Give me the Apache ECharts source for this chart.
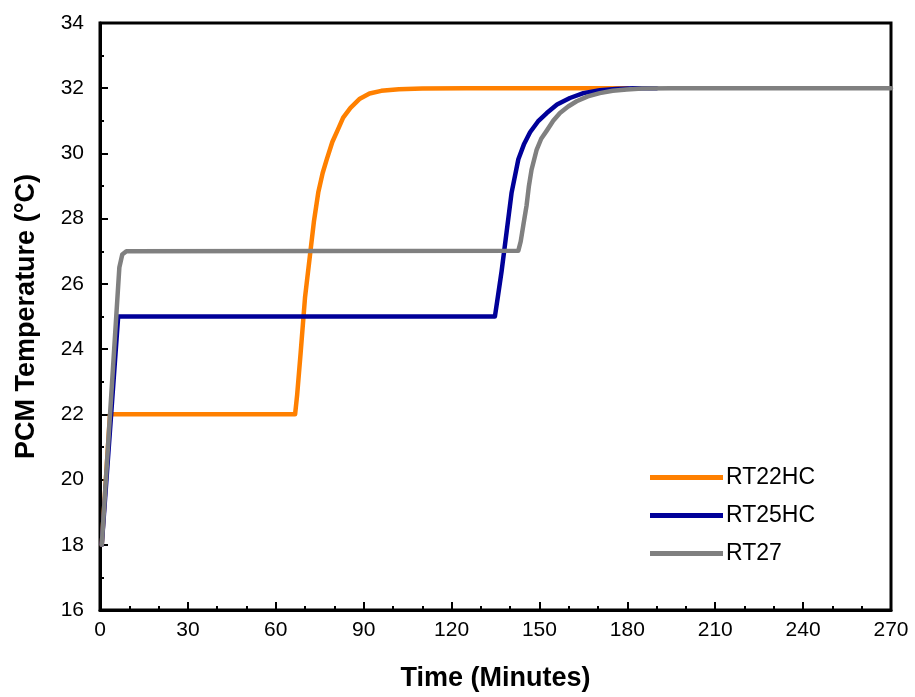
<!DOCTYPE html>
<html>
<head>
<meta charset="utf-8">
<script src="https://cdn.jsdelivr.net/npm/echarts@6/dist/echarts.min.js"></script>
<style>
html,body{margin:0;padding:0;background:#fff;}
#chart{width:915px;height:697px;}
</style>
</head>
<body>
<div id="chart"></div>
<script>
// Time (minutes), Temperature (°C) pairs
var seriesNames = ['RT22HC', 'RT25HC', 'RT27'];
var rt22hc = [[0.6,18],[3.4,22],[66.6,22],[67.3,22.6],[68.5,23.9],[70,25.6],[71.7,26.9],[73,27.9],[74.5,28.8],[76,29.4],[77.4,29.82],[79.3,30.35],[81.2,30.73],[83,31.1],[85.5,31.4],[88.7,31.68],[92,31.84],[96,31.92],[102,31.97],[110,31.99],[125,32],[180,32]];
var rt25hc = [[0.6,18],[6.2,25],[134.8,25],[135.8,25.6],[137.1,26.4],[138.8,27.6],[140.5,28.8],[142.8,29.82],[144.8,30.3],[146.8,30.65],[149.5,30.98],[152.5,31.24],[156,31.5],[160.4,31.7],[165,31.85],[170.6,31.94],[176,31.98],[182,32],[190,32]];
var rt27 = [[0.6,18],[6.6,26.5],[7.6,26.9],[9,27],[142.8,27.02],[143.6,27.3],[144.5,27.8],[145.6,28.4],[146.4,29.0],[147.3,29.5],[149,30.1],[150.6,30.45],[152.5,30.7],[154.7,31.0],[157,31.24],[159.8,31.44],[162.7,31.6],[166.5,31.75],[170.6,31.85],[175,31.92],[179.8,31.96],[185,31.99],[195,32],[270,32]];
var colors = ['#FF8000', '#000099', '#808080'];

var chart = echarts.init(document.getElementById('chart'), null, {renderer: 'canvas'});
var font = 'Liberation Sans, Arial, sans-serif';
function mk(name, data, color) {
  return {
    name: name, type: 'line', data: data, showSymbol: false, symbol: 'none',
    smooth: false,
    lineStyle: {color: color, width: 4.5, join: 'round', cap: 'round'},
    itemStyle: {color: color}, animation: false
  };
}
chart.setOption({
  animation: false,
  backgroundColor: '#fff',
  grid: {left: 100, top: 23, right: 24, bottom: 84, show: true, borderColor: '#000', borderWidth: 3, backgroundColor: 'transparent'},
  legend: {
    orient: 'vertical', left: 645, top: 461,
    data: seriesNames.map(function(n, i){ return {name: n, icon: 'rect', itemStyle: {color: colors[i]}}; }),
    itemWidth: 73, itemHeight: 5, itemGap: 15,
    textStyle: {fontFamily: font, fontSize: 23, color: '#000', padding: [0,0,0,-2]}
  },
  xAxis: {
    type: 'value', min: 0, max: 270, interval: 30,
    name: 'Time (Minutes)', nameLocation: 'middle', nameGap: 55,
    nameTextStyle: {fontFamily: font, fontSize: 27, fontWeight: 'bold', color: '#000'},
    axisLine: {show: true, lineStyle: {color: '#000', width: 3}},
    axisTick: {show: true, inside: true, length: 8, lineStyle: {color: '#000', width: 2}},
    minorTick: {show: true, splitNumber: 3, length: 4, lineStyle: {color: '#000', width: 2}},
    axisLabel: {fontFamily: font, fontSize: 21, color: '#000', margin: 10},
    splitLine: {show: false}
  },
  yAxis: {
    type: 'value', min: 16, max: 34, interval: 2,
    name: 'PCM Temperature (°C)', nameLocation: 'middle', nameGap: 60,
    nameTextStyle: {fontFamily: font, fontSize: 27, fontWeight: 'bold', color: '#000'},
    axisLine: {show: true, lineStyle: {color: '#000', width: 3}},
    axisTick: {show: true, inside: true, length: 8, lineStyle: {color: '#000', width: 2}},
    minorTick: {show: true, splitNumber: 2, length: 4, lineStyle: {color: '#000', width: 2}},
    axisLabel: {fontFamily: font, fontSize: 21, color: '#000', margin: 16},
    splitLine: {show: false}
  },
  series: [mk(seriesNames[0], rt22hc, colors[0]), mk(seriesNames[1], rt25hc, colors[1]), mk(seriesNames[2], rt27, colors[2])]
});
</script>
</body>
</html>
